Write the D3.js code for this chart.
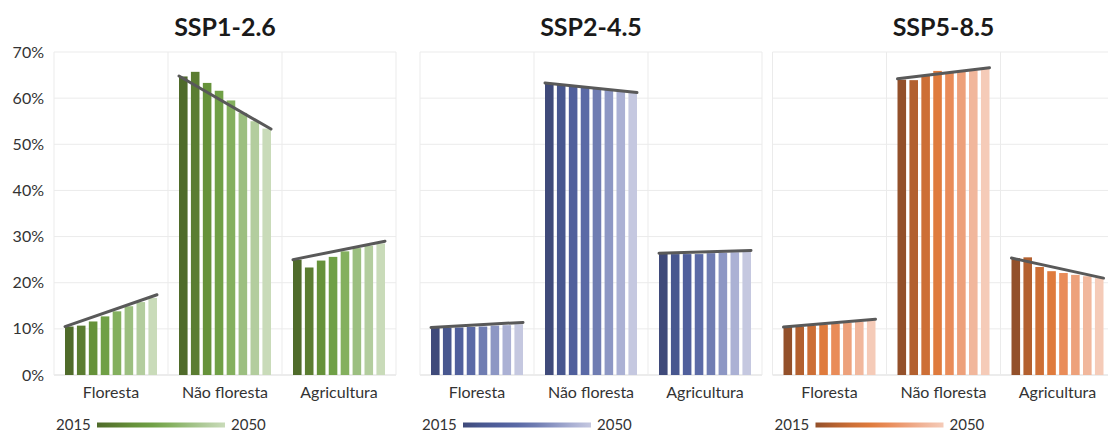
<!DOCTYPE html>
<html>
<head>
<meta charset="utf-8">
<script src="https://cdn.jsdelivr.net/npm/d3@7"></script>
<style>
  html, body { margin: 0; padding: 0; background: #ffffff; }
  svg { display: block; font-family: Lato, "Open Sans", sans-serif; }
</style>
</head>
<body>
<svg id="chart" width="1108" height="434"></svg>
<script>
// Land-use share by scenario, 2015–2050 (percent of area)
const scenarios = ["SSP1-2.6", "SSP2-4.5", "SSP5-8.5"];
const categories = ["Floresta", "Não floresta", "Agricultura"];
const years = [2015, 2020, 2025, 2030, 2035, 2040, 2045, 2050];
const yTicks = [0, 10, 20, 30, 40, 50, 60, 70];

const ssp126Floresta    = [10.5, 10.7, 11.6, 12.7, 13.8, 14.9, 15.8, 16.7];
const ssp126NaoFloresta = [64.7, 65.7, 63.3, 61.6, 59.5, 56.8, 55.0, 53.4];
const ssp126Agricultura = [25.0, 23.3, 24.8, 25.6, 26.8, 27.5, 28.0, 28.5];

const ssp245Floresta    = [10.2, 10.2, 10.3, 10.4, 10.5, 10.7, 10.8, 11.0];
const ssp245NaoFloresta = [63.1, 62.9, 62.6, 62.3, 62.0, 61.8, 61.6, 61.3];
const ssp245Agricultura = [26.3, 26.2, 26.2, 26.2, 26.4, 26.5, 26.6, 26.8];

const ssp585Floresta    = [10.4, 10.5, 10.7, 10.9, 11.1, 11.3, 11.5, 11.8];
const ssp585NaoFloresta = [64.0, 63.9, 64.9, 65.9, 65.6, 65.7, 66.0, 66.3];
const ssp585Agricultura = [25.3, 25.5, 23.4, 22.5, 22.1, 21.7, 21.4, 21.0];

// Trend lines: value at 2015 and at 2050 for each category
const ssp126Trend = [[10.5, 17.4], [64.8, 53.3], [25.0, 29.0]];
const ssp245Trend = [[10.3, 11.4], [63.3, 61.2], [26.4, 27.0]];
const ssp585Trend = [[10.4, 12.1], [64.2, 66.6], [25.35, 21.0]];

const greens  = ["#4f6b2a", "#5b7d31", "#66923a", "#70a046", "#84b05e", "#9cbf80", "#b3cd9e", "#c9dbb9"];
const blues   = ["#3f4a7a", "#48578f", "#505f9c", "#5b6aa6", "#707db2", "#8d97c4", "#abb1d4", "#c5c8e0"];
const oranges = ["#93502a", "#b3602f", "#cd6f36", "#df7b3d", "#e98c59", "#eda17b", "#f1b79c", "#f5cbb8"];

const panels = [
  { name: scenarios[0], series: [ssp126Floresta, ssp126NaoFloresta, ssp126Agricultura], trend: ssp126Trend, colors: greens,  left: 54 },
  { name: scenarios[1], series: [ssp245Floresta, ssp245NaoFloresta, ssp245Agricultura], trend: ssp245Trend, colors: blues,   left: 420 },
  { name: scenarios[2], series: [ssp585Floresta, ssp585NaoFloresta, ssp585Agricultura], trend: ssp585Trend, colors: oranges, left: 772.5 }
];

const panelWidth = 342;
const plotTop = 52, plotBottom = 375;

const svg = d3.select("#chart");
const defs = svg.append("defs");

const y = d3.scaleLinear().domain([0, 70]).range([plotBottom, plotTop]);

const x0 = d3.scaleBand()
  .domain(categories)
  .range([0, panelWidth])
  .paddingInner(0.193)
  .paddingOuter(0.0965);

const x1 = d3.scaleBand()
  .domain(years)
  .range([0, x0.bandwidth()])
  .paddingInner(0.28)
  .paddingOuter(0);

const gridColor = "#ebebeb";
const textColor = "#333333";

// Y axis labels on the first panel
const yAxis = d3.axisLeft(y)
  .tickValues(yTicks)
  .tickFormat(d => d + "%")
  .tickSize(0)
  .tickPadding(10);

svg.append("g")
  .attr("transform", `translate(${panels[0].left},0)`)
  .call(yAxis)
  .call(g => g.select(".domain").remove())
  .call(g => g.selectAll("text")
    .attr("fill", textColor)
    .style("font-size", "16px")
    .style("font-family", "Lato, sans-serif"));

panels.forEach((p, pi) => {
  const g = svg.append("g").attr("transform", `translate(${p.left},0)`);

  // horizontal grid
  g.append("g").selectAll("line")
    .data(yTicks)
    .join("line")
    .attr("x1", 0).attr("x2", panelWidth)
    .attr("y1", d => y(d)).attr("y2", d => y(d))
    .attr("stroke", d => d === 0 ? "#d9d9d9" : gridColor)
    .attr("stroke-width", 1);

  // vertical separators between categories
  const seps = [0, ...categories.map(c => x0(c) + x0.bandwidth() + x0.step() * x0.paddingInner() / 2)];
  seps[seps.length - 1] = panelWidth;
  g.append("g").selectAll("line")
    .data(seps)
    .join("line")
    .attr("x1", d => d).attr("x2", d => d)
    .attr("y1", plotTop).attr("y2", plotBottom)
    .attr("stroke", gridColor)
    .attr("stroke-width", 1);

  // title
  g.append("text")
    .attr("x", panelWidth / 2)
    .attr("y", 36)
    .attr("text-anchor", "middle")
    .attr("fill", "#1a1a1a")
    .style("font-family", "Lato, sans-serif")
    .style("font-weight", "bold")
    .style("font-size", "25px")
    .text(p.name);

  categories.forEach((cat, ci) => {
    const cg = g.append("g").attr("transform", `translate(${x0(cat)},0)`);
    const vals = p.series[ci];

    cg.selectAll("rect")
      .data(vals)
      .join("rect")
      .attr("x", (d, i) => x1(years[i]))
      .attr("y", d => y(d))
      .attr("width", x1.bandwidth())
      .attr("height", d => y(0) - y(d))
      .attr("fill", (d, i) => p.colors[i]);

    const [t0, t1] = p.trend[ci];
    cg.append("line")
      .attr("x1", x1(years[0]))
      .attr("x2", x1(years[years.length - 1]) + x1.bandwidth())
      .attr("y1", y(t0))
      .attr("y2", y(t1))
      .attr("stroke", "#595959")
      .attr("stroke-width", 3)
      .attr("stroke-linecap", "round");

    // category label
    g.append("text")
      .attr("x", x0(cat) + x0.bandwidth() / 2)
      .attr("y", 398)
      .attr("text-anchor", "middle")
      .attr("fill", textColor)
      .style("font-family", "Lato, sans-serif")
      .style("font-size", "16px")
      .text(cat);
  });

  // year legend with gradient bar
  const gradId = "grad" + pi;
  const grad = defs.append("linearGradient").attr("id", gradId)
    .attr("x1", "0%").attr("x2", "100%").attr("y1", "0%").attr("y2", "0%");
  grad.selectAll("stop")
    .data(p.colors)
    .join("stop")
    .attr("offset", (d, i) => (i / (p.colors.length - 1) * 100) + "%")
    .attr("stop-color", d => d);

  const lg = g.append("g").attr("transform", "translate(2,0)");
  lg.append("text")
    .attr("x", 0).attr("y", 430)
    .attr("fill", textColor)
    .style("font-family", "Lato, sans-serif")
    .style("font-size", "15px")
    .text(years[0]);
  lg.append("rect")
    .attr("x", 41).attr("y", 422.5)
    .attr("width", 128).attr("height", 5)
    .attr("fill", `url(#${gradId})`);
  lg.append("text")
    .attr("x", 175).attr("y", 430)
    .attr("fill", textColor)
    .style("font-family", "Lato, sans-serif")
    .style("font-size", "15px")
    .text(years[years.length - 1]);
});
</script>
</body>
</html>
